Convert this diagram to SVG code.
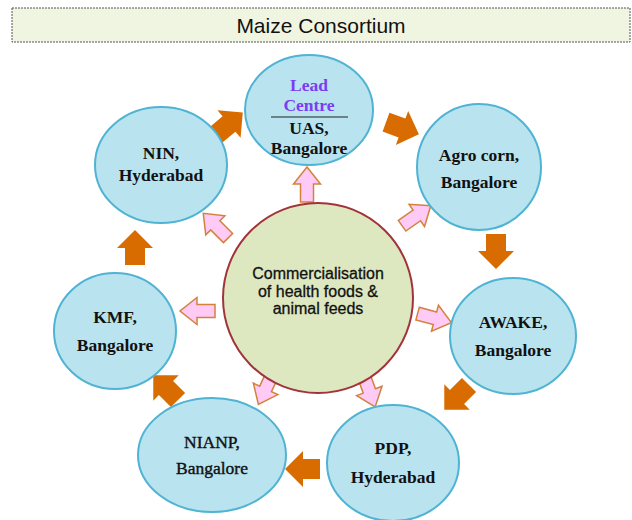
<svg xmlns="http://www.w3.org/2000/svg" xmlns:xlink="http://www.w3.org/1999/xlink" width="632" height="520" viewBox="0 0 632 520">
<style>
.node{fill:#b9e3ee;stroke:#4fb3d3;stroke-width:2}
.nt{font-family:"Liberation Serif","Times New Roman",serif;font-size:17.5px;font-weight:bold;fill:#111;text-anchor:middle}
.ct{font-family:"Liberation Sans",Arial,sans-serif;font-size:16px;fill:#111;stroke:#111;stroke-width:0.3;text-anchor:middle}
.oa{fill:#d96c00}
.pa{fill:#ffcaf6;stroke:#d2823c;stroke-width:1.5}
</style>
<defs>
<path id="oarrow" d="M-17,-10 L0,-10 L0,-18 L18,0 L0,18 L0,10 L-17,10 Z"/>
<path id="parrow" d="M-17,-6.5 L1,-6.5 L1,-13.5 L18,0 L1,13.5 L1,6.5 L-17,6.5 Z"/>
</defs>
<rect width="632" height="520" fill="#fff"/>
<g id="title">
<rect x="12" y="8" width="618" height="34" fill="#f0f5e2" stroke="#555" stroke-width="1" stroke-dasharray="2,1"/>
<text x="321" y="33" font-family="Liberation Sans,Arial,sans-serif" font-size="21" fill="#111" text-anchor="middle">Maize Consortium</text>
</g>
<g id="connectors">
<use href="#oarrow" class="oa" transform="translate(229,124) rotate(-40)"/>
<use href="#oarrow" class="oa" transform="translate(402,128) rotate(20)"/>
<use href="#oarrow" class="oa" transform="translate(496,251) rotate(90)"/>
<use href="#oarrow" class="oa" transform="translate(457,397) rotate(135)"/>
<use href="#oarrow" class="oa" transform="translate(303,469) rotate(180)"/>
<use href="#oarrow" class="oa" transform="translate(166,388) rotate(-135)"/>
<use href="#oarrow" class="oa" transform="translate(135,248) rotate(-90)"/>
<use href="#parrow" class="pa" transform="translate(307,185) rotate(-90)"/>
<use href="#parrow" class="pa" transform="translate(416,216) rotate(-35)"/>
<use href="#parrow" class="pa" transform="translate(216,226) rotate(-135)"/>
<use href="#parrow" class="pa" transform="translate(198,311) rotate(180)"/>
<use href="#parrow" class="pa" transform="translate(434,318) rotate(15)"/>
<use href="#parrow" class="pa" transform="translate(266,388) rotate(115)"/>
<use href="#parrow" class="pa" transform="translate(369,390) rotate(70)"/>
</g>
<g id="center">
<ellipse cx="318" cy="298" rx="95" ry="95" fill="#dde8c0" stroke="#a3333a" stroke-width="2"/>
<text class="ct" x="318" y="279">Commercialisation</text>
<text class="ct" x="318" y="297">of health foods &amp;</text>
<text class="ct" x="318" y="314">animal feeds</text>
</g>
<g id="lead">
<ellipse class="node" cx="309" cy="110" rx="64" ry="55"/>
<text class="nt" x="309" y="91" style="fill:#7a3cf5">Lead</text>
<text class="nt" x="309" y="111" style="fill:#7a3cf5">Centre</text>
<line x1="271" y1="117" x2="348" y2="117" stroke="#222" stroke-width="1.2"/>
<text class="nt" x="309" y="134">UAS,</text>
<text class="nt" x="309" y="154">Bangalore</text>
</g>
<g id="agro">
<ellipse class="node" cx="479" cy="167" rx="62" ry="63"/>
<text class="nt" x="479" y="161">Agro corn,</text>
<text class="nt" x="479" y="188">Bangalore</text>
</g>
<g id="awake">
<ellipse class="node" cx="513" cy="336" rx="63" ry="58"/>
<text class="nt" x="513" y="328">AWAKE,</text>
<text class="nt" x="513" y="356">Bangalore</text>
</g>
<g id="pdp">
<ellipse class="node" cx="393" cy="463" rx="66" ry="58"/>
<text class="nt" x="393" y="454">PDP,</text>
<text class="nt" x="393" y="483">Hyderabad</text>
</g>
<g id="nianp">
<ellipse class="node" cx="212" cy="455" rx="74" ry="57"/>
<text class="nt" x="212" y="448" style="font-weight:normal;stroke:#111;stroke-width:0.4">NIANP,</text>
<text class="nt" x="212" y="474" style="font-weight:normal;stroke:#111;stroke-width:0.4">Bangalore</text>
</g>
<g id="kmf">
<ellipse class="node" cx="115" cy="331" rx="61" ry="58"/>
<text class="nt" x="115" y="323">KMF,</text>
<text class="nt" x="115" y="351">Bangalore</text>
</g>
<g id="nin">
<ellipse class="node" cx="161" cy="165" rx="66" ry="58"/>
<text class="nt" x="161" y="159">NIN,</text>
<text class="nt" x="161" y="181">Hyderabad</text>
</g>
</svg>
